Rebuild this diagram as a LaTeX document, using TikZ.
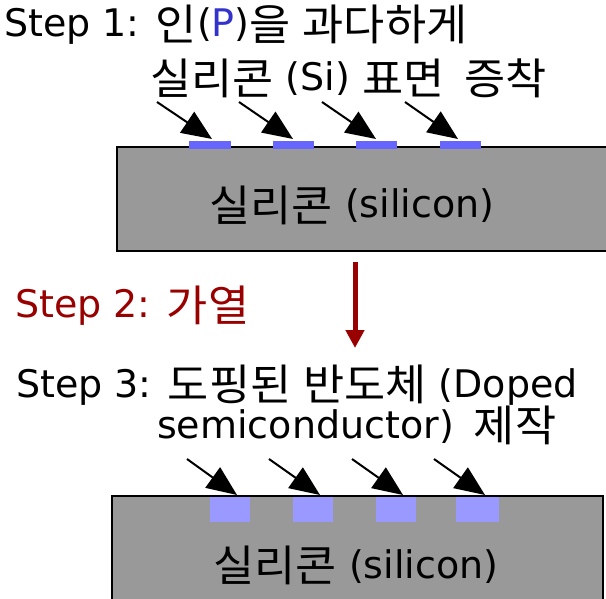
\documentclass[tikz,border=0pt]{standalone}
\usepackage{graphicx}
\usepackage{fontspec}
\setmainfont{DejaVu Sans}
\newfontfamily\krfont{Noto Sans CJK KR}
\newcommand\krs[3]{\raisebox{-3.5pt}{\scalebox{#1}[1]{\fontsize{#2}{#2}\selectfont\krfont #3}}}
\newcommand\kr[1]{\krs{1.04}{43}{#1}}
\usetikzlibrary{arrows.meta}
\definecolor{wafer}{HTML}{999999}
\definecolor{dopant}{HTML}{6666FF}
\definecolor{doped}{HTML}{9999FF}
\definecolor{heatred}{HTML}{990000}
\definecolor{pblue}{HTML}{3333CC}
\tikzset{
  txt/.style={anchor=base west, inner sep=0pt, font=\fontsize{38}{45}\selectfont},
  lab/.style={anchor=base, inner sep=0pt, font=\fontsize{38}{45}\selectfont},
  waferbox/.style={draw=black, line width=2pt, fill=wafer},
  strip/.style={fill=dopant},
  well/.style={fill=doped},
  implant/.style={draw=black, line width=2pt, -{Triangle[length=30pt,width=25pt]}},
  heat/.style={draw=heatred, line width=5pt, -{Triangle[length=18pt,width=18pt]}},
}
\begin{document}
\begin{tikzpicture}[x=1pt,y=-1pt]
\useasboundingbox (0,0) rectangle (606,599);
\clip (0,0) rectangle (606,599);
% step 1 text
\node[txt] (s1a) at (4,37) {Step 1: \kr{인}(\textcolor{pblue}{P})\kr{을} \kr{과다하게}};
\node[txt] (s1b) at (150,91) {\kr{실리콘} (Si) \kr{표면}\hspace{8pt} \kr{증착}};
% top wafer
\draw[waferbox] (117,147) rectangle (640,251);
\node[lab] (lab1) at (352,218) {\kr{실리콘} (silicon)};
\foreach \i/\a/\b in {1/189/231, 2/273/314, 3/356/397, 4/440/481}{
  \path[strip] (\a,141) rectangle (\b,149);
}
\foreach \i/\sx/\tx in {1/157/212, 2/239/293, 3/322/376, 4/405/458}{
  \coordinate (a\i) at (\sx,102);
  \coordinate (ta\i) at (\tx,139);
  \draw[implant] (a\i) -- (ta\i);
}
% step 2
\node[txt, text=heatred] (s2) at (15,318) {Step 2: \kr{가열}};
\coordinate (h1) at (355,262);
\coordinate (h2) at (355,348);
\draw[heat] (h1) -- (h2);
% step 3 text
\node[txt] (s3a) at (16,397) {Step 3: \kr{도핑된} \kr{반도체} (Doped};
\node[txt] (s3b) at (157,438) {semiconductor)\hspace{8pt} \kr{제작}};
% bottom wafer
\path[fill=wafer] (112,496) rectangle (603,640);
\foreach \i/\a/\b in {1/210/250, 2/293/333, 3/376/416, 4/456/499}{
  \path[well] (\a,497) rectangle (\b,522);
}
\draw[waferbox, fill=none] (112,640) -- (112,496) -- (603,496) -- (603,640);
\node[lab] (lab2) at (356,578) {\kr{실리콘} (silicon)};
\foreach \i/\sx/\tx in {1/187/237, 2/269/320, 3/352/403, 4/434/485}{
  \coordinate (b\i) at (\sx,459);
  \coordinate (tb\i) at (\tx,495);
  \draw[implant] (b\i) -- (tb\i);
}
\end{tikzpicture}
\end{document}
